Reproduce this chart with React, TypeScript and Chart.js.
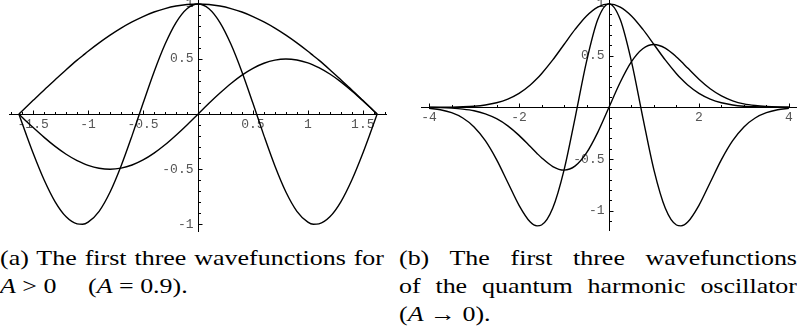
import React, { useEffect, useRef } from 'react';
import { Chart, registerables } from 'chart.js';

Chart.register(...registerables);

// ---------- Data: panel (a), A = 0.9 ----------
const xA = [-1.63, -1.57, -1.5, -1.4, -1.3, -1.2, -1.1, -1.05, -1.0, -0.9, -0.8, -0.7, -0.6, -0.5, -0.4, -0.3, -0.2, -0.1, 0,
  0.1, 0.2, 0.3, 0.4, 0.5, 0.6, 0.7, 0.8, 0.9, 1.0, 1.05, 1.1, 1.2, 1.3, 1.4, 1.5, 1.57, 1.63];
const psi0A = [0, 0.058, 0.125, 0.220, 0.312, 0.403, 0.490, 0.530, 0.571, 0.647, 0.717, 0.781, 0.837, 0.886, 0.927, 0.958, 0.981, 0.995, 1,
  0.995, 0.981, 0.958, 0.927, 0.886, 0.837, 0.781, 0.717, 0.647, 0.571, 0.530, 0.490, 0.403, 0.312, 0.220, 0.125, 0.058, 0];
const psi1A = [0, -0.057, -0.122, -0.211, -0.293, -0.364, -0.422, -0.445, -0.465, -0.491, -0.500, -0.490, -0.462, -0.416, -0.354, -0.278, -0.191, -0.098, 0,
  0.098, 0.191, 0.278, 0.354, 0.416, 0.462, 0.490, 0.500, 0.491, 0.465, 0.445, 0.422, 0.364, 0.293, 0.211, 0.122, 0.057, 0];
const psi2A = [0, -0.167, -0.355, -0.598, -0.796, -0.932, -0.996, -1.0, -0.981, -0.882, -0.707, -0.471, -0.195, 0.098, 0.383, 0.634, 0.831, 0.957, 1,
  0.957, 0.831, 0.634, 0.383, 0.098, -0.195, -0.471, -0.707, -0.882, -0.981, -1.0, -0.996, -0.932, -0.796, -0.598, -0.355, -0.167, 0];

const xTicksA = [-1.5, -1, -0.5, 0.5, 1, 1.5];
const xTickLabelsA = ['-1.5', '-1', '-0.5', '0.5', '1', '1.5'];
const yTicksA = [-1, -0.5, 0.5, 1];
const yTickLabelsA = ['-1', '-0.5', '0.5', '1'];

// ---------- Data: panel (b), harmonic oscillator ----------
const xB = [-4, -3.75, -3.5, -3.25, -3, -2.75, -2.5, -2.25, -2, -1.75, -1.6, -1.5, -1.25, -1, -0.75, -0.5, -0.25, 0,
  0.25, 0.5, 0.75, 1, 1.25, 1.5, 1.6, 1.75, 2, 2.25, 2.5, 2.75, 3, 3.25, 3.5, 3.75, 4];
const psi0B = [0.000, 0.001, 0.002, 0.005, 0.011, 0.023, 0.044, 0.080, 0.135, 0.216, 0.278, 0.325, 0.458, 0.607, 0.755, 0.883, 0.969, 1,
  0.969, 0.883, 0.755, 0.607, 0.458, 0.325, 0.278, 0.216, 0.135, 0.080, 0.044, 0.023, 0.011, 0.005, 0.002, 0.001, 0.000];
const psi1B = [-0.001, -0.003, -0.008, -0.017, -0.033, -0.063, -0.110, -0.179, -0.271, -0.379, -0.445, -0.487, -0.572, -0.607, -0.566, -0.441, -0.242, 0,
  0.242, 0.441, 0.566, 0.607, 0.572, 0.487, 0.445, 0.379, 0.271, 0.179, 0.110, 0.063, 0.033, 0.017, 0.008, 0.003, 0.001];
const psi2B = [-0.010, -0.024, -0.052, -0.103, -0.189, -0.322, -0.505, -0.726, -0.947, -1.109, -1.145, -1.137, -0.973, -0.607, -0.094, 0.441, 0.848, 1,
  0.848, 0.441, -0.094, -0.607, -0.973, -1.137, -1.145, -1.109, -0.947, -0.726, -0.505, -0.322, -0.189, -0.103, -0.052, -0.024, -0.010];

const xTicksB = [-4, -2, 2, 4];
const xTickLabelsB = ['-4', '-2', '2', '4'];
const yTicksB = [-1, -0.5, 0.5, 1];
const yTickLabelsB = ['-1', '-0.5', '0.5', '1'];

// Mathematica-style axis decorations: tick marks + monospace labels
const axisDecor = {
  id: 'axisDecor',
  beforeDatasetsDraw(chart: any, _args: any, opts: any) {
    const { ctx, scales } = chart;
    const xs = scales.x;
    const ys = scales.y;
    const x0 = Math.round(xs.getPixelForValue(0)) + 0.5;
    const y0 = Math.round(ys.getPixelForValue(0)) + 0.5;
    ctx.save();
    ctx.strokeStyle = '#000';
    ctx.lineWidth = 1;
    ctx.beginPath();
    const isMajor = (v: number, arr: number[]) => arr.some((m) => Math.abs(m - v) < 1e-6);
    for (let i = Math.ceil(xs.min / opts.xMinor - 1e-6); i * opts.xMinor <= xs.max + 1e-6; i++) {
      const v = i * opts.xMinor;
      if (Math.abs(v) < 1e-6) continue;
      const px = Math.round(xs.getPixelForValue(v)) + 0.5;
      const len = isMajor(v, opts.xTicks) ? 4 : 2.5;
      ctx.moveTo(px, y0);
      ctx.lineTo(px, y0 - len);
    }
    for (let i = Math.ceil(ys.min / opts.yMinor - 1e-6); i * opts.yMinor <= ys.max + 1e-6; i++) {
      const v = i * opts.yMinor;
      if (Math.abs(v) < 1e-6) continue;
      const py = Math.round(ys.getPixelForValue(v)) + 0.5;
      const len = isMajor(v, opts.yTicks) ? 4 : 2.5;
      ctx.moveTo(x0, py);
      ctx.lineTo(x0 + len, py);
    }
    ctx.stroke();
    ctx.fillStyle = '#555';
    ctx.font = '13px "Liberation Mono", monospace';
    ctx.textAlign = 'center';
    ctx.textBaseline = 'middle';
    opts.xTicks.forEach((v: number, i: number) => {
      ctx.fillText(opts.xLabels[i], xs.getPixelForValue(v), y0 + 10);
    });
    ctx.textAlign = 'right';
    opts.yTicks.forEach((v: number, i: number) => {
      ctx.fillText(opts.yLabels[i], x0 - 5, ys.getPixelForValue(v));
    });
    ctx.restore();
  },
};

function makeConfig(
  xs: number[], series: number[][], xr: [number, number], yr: [number, number],
  xTicks: number[], xLabels: string[], yTicks: number[], yLabels: string[], xMinor: number, yMinor: number,
): any {
  return {
    type: 'line',
    data: {
      datasets: series.map((s) => ({
        data: xs.map((x, i) => ({ x, y: s[i] })),
        borderColor: '#000',
        borderWidth: 1.4,
        pointRadius: 0,
        fill: false,
        cubicInterpolationMode: 'monotone',
      })),
    },
    options: {
      responsive: false,
      maintainAspectRatio: false,
      animation: false,
      events: [],
      layout: { padding: 0 },
      plugins: {
        legend: { display: false },
        tooltip: { enabled: false },
        axisDecor: { xTicks, xLabels, yTicks, yLabels, xMinor, yMinor },
      },
      scales: {
        x: {
          type: 'linear', min: xr[0], max: xr[1], position: { y: 0 },
          ticks: { display: false },
          grid: { display: true, drawOnChartArea: false, drawTicks: false, lineWidth: 1 },
          border: { display: true, color: '#000', width: 1 },
        },
        y: {
          type: 'linear', min: yr[0], max: yr[1], position: { x: 0 },
          ticks: { display: false },
          grid: { display: true, drawOnChartArea: false, drawTicks: false, lineWidth: 1 },
          border: { display: true, color: '#000', width: 1 },
        },
      },
    },
    plugins: [axisDecor],
  };
}

function Panel(props: { config: any; left: number; width: number; height: number }) {
  const ref = useRef<HTMLCanvasElement | null>(null);
  useEffect(() => {
    if (!ref.current) return;
    const chart = new Chart(ref.current, props.config);
    return () => chart.destroy();
  }, []);
  return (
    <canvas
      ref={ref}
      width={props.width}
      height={props.height}
      style={{ position: 'absolute', left: props.left, top: 0, width: props.width, height: props.height }}
    />
  );
}

const SX = 1.18;
const capFont: React.CSSProperties = {
  position: 'absolute',
  fontFamily: '"Liberation Serif", "Times New Roman", serif',
  fontSize: 22,
  lineHeight: '28px',
  color: '#000',
  margin: 0,
  whiteSpace: 'normal',
  transform: `scaleX(${SX})`,
  transformOrigin: '0 0',
};

function Line(props: { left: number; top: number; width?: number; justify?: boolean; children: React.ReactNode }) {
  const style: React.CSSProperties = { ...capFont, left: props.left, top: props.top };
  if (props.width) style.width = props.width / SX;
  if (props.justify) {
    style.textAlign = 'justify';
    style.textAlignLast = 'justify';
  } else {
    style.whiteSpace = 'nowrap';
  }
  return <div style={style}>{props.children}</div>;
}

export default function App() {
  const cfgA = makeConfig(xA, [psi0A, psi1A, psi2A], [-1.72, 1.72], [-1.07, 1.036],
    xTicksA, xTickLabelsA, yTicksA, yTickLabelsA, 0.1, 0.1);
  const cfgB = makeConfig(xB, [psi0B, psi1B, psi2B], [-4.18, 4.18], [-1.195, 1.037],
    xTicksB, xTickLabelsB, yTicksB, yTickLabelsB, 0.5, 0.1);
  return (
    <div style={{ position: 'absolute', left: 0, top: 0, width: 797, height: 330, overflow: 'hidden', background: '#fff' }}>
      <Panel config={cfgA} left={9} width={378} height={232} />
      <Panel config={cfgB} left={421} width={376} height={231} />

      <Line left={0} top={244} width={384} justify>(a) The first three wavefunctions for</Line>
      <Line left={0} top={272}><i>A</i> &gt; 0</Line>
      <Line left={88} top={272}>(<i>A</i> = 0.9).</Line>

      <Line left={399} top={244} width={398} justify>(b) The first three wavefunctions</Line>
      <Line left={399} top={272} width={398} justify>of the quantum harmonic oscillator</Line>
      <Line left={399} top={300}>(<i>A</i> → 0).</Line>
    </div>
  );
}
